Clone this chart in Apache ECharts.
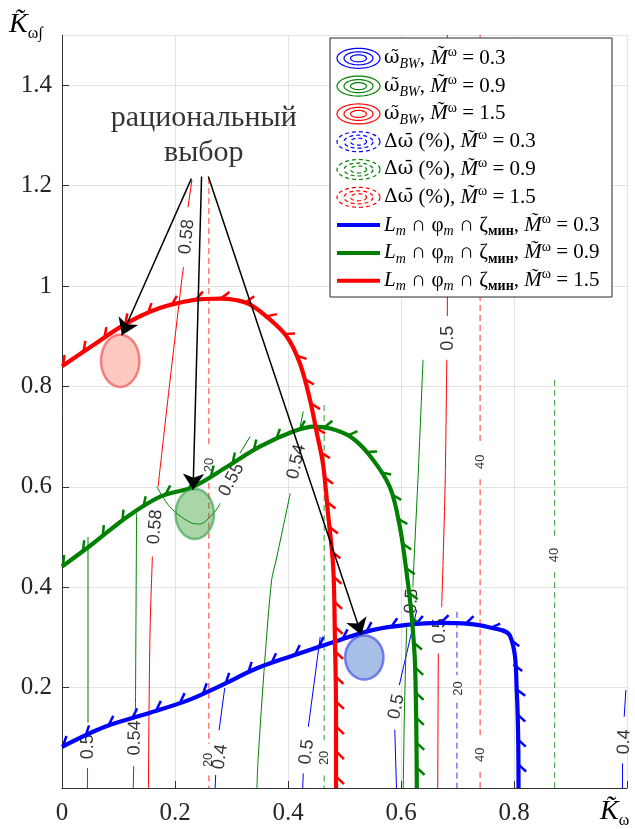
<!DOCTYPE html>
<html>
<head>
<meta charset="utf-8">
<script src="https://cdn.jsdelivr.net/npm/echarts@6/dist/echarts.min.js"></script>
<style>
html, body { margin: 0; padding: 0; background: #fff; }
#chart { width: 635px; height: 829px; }
</style>
</head>
<body>
<div id="chart"></div>
<script>
// --- axes ---
const X_MAX = 1, Y_MAX = 1.5, STEP = 0.2;

// --- boundaries L_m ∩ φ_m ∩ ζ_мин (thick) ---
const boundBlue = [[0,0.082],[0.076,0.122],[0.153,0.149],[0.224,0.175],[0.283,0.205],[0.342,0.237],[0.404,0.262],[0.492,0.295],[0.551,0.315],[0.61,0.325],[0.669,0.329],[0.72,0.327],[0.752,0.321],[0.793,0.303],[0.805,0.19],[0.808,0]];
const boundGreen = [[0,0.441],[0.055,0.487],[0.115,0.54],[0.173,0.58],[0.232,0.6],[0.292,0.64],[0.35,0.68],[0.409,0.71],[0.445,0.72],[0.475,0.716],[0.51,0.7],[0.545,0.662],[0.58,0.6],[0.598,0.52],[0.61,0.428],[0.619,0.341],[0.625,0.242],[0.628,0]];
const boundRed = [[0,0.84],[0.055,0.882],[0.115,0.926],[0.173,0.956],[0.232,0.972],[0.28,0.975],[0.327,0.966],[0.362,0.939],[0.398,0.899],[0.421,0.846],[0.439,0.773],[0.451,0.707],[0.462,0.645],[0.471,0.545],[0.48,0.44],[0.483,0.3],[0.485,0.15],[0.485,0]];

// --- ω_BW contours (solid), split at the labels ---
const solidBlue = [
  [[0.288,0.199],[0.278,0.115]], [[0.272,0.026],[0.271,0]],
  [[0.457,0.301],[0.436,0.122]], [[0.427,0.029],[0.426,0]],
  [[0.628,0.355],[0.597,0.205]], [[0.589,0.116],[0.592,0]],
  [[0.998,0.195],[0.995,0.142]], [[0.992,0.049],[0.992,0]]
];
const solidGreen = [
  [[0.046,0.5],[0.046,0.13]], [[0.045,0.04],[0.045,0]],
  [[0.132,0.547],[0.131,0.35],[0.13,0.155]], [[0.127,0.044],[0.126,0]],
  [[0.168,0.6],[0.191,0.56],[0.232,0.527],[0.244,0.526],[0.268,0.547],[0.28,0.567]], [[0.315,0.667],[0.333,0.7]],
  [[0.427,0.75],[0.421,0.717]], [[0.404,0.587],[0.379,0.454],[0.371,0.414],[0.359,0.255],[0.347,0.056],[0.345,0]],
  [[0.639,0.853],[0.631,0.64],[0.622,0.428],[0.621,0.4]], [[0.61,0.321],[0.606,0.15],[0.604,0]]
];
const solidRed = [
  [[0.230,1.211],[0.223,1.157]], [[0.215,1.038],[0.212,1.012],[0.19,0.8],[0.17,0.6]], [[0.16,0.461],[0.156,0.321],[0.154,0.15],[0.153,0]],
  [[0.682,1.5],[0.682,0.94]], [[0.681,0.853],[0.678,0.6],[0.672,0.36]], [[0.666,0.268],[0.665,0]]
];
// --- Δω (%) contours (dashed) ---
const dashBlue = [[[0.699,0.351],[0.699,0.225]], [[0.699,0.17],[0.699,0]]];
const dashGreen = [[[0.464,0.763],[0.464,0.095]], [[0.464,0.025],[0.464,0]], [[0.872,0.813],[0.872,0.5]], [[0.872,0.43],[0.872,0]]];
const dashRed = [[[0.26,1.215],[0.26,0.68]], [[0.26,0.608],[0.26,0.088]], [[0.26,0.025],[0.26,0]], [[0.74,1.5],[0.74,0.685]], [[0.74,0.615],[0.74,0.1]], [[0.74,0.032],[0.74,0]]];

// contour labels: [text, x, y, angle]
const solidLabels = [
  ['0.4',0.28,0.062,82], ['0.5',0.433,0.072,83], ['0.5',0.592,0.162,78], ['0.4',0.995,0.092,88],
  ['0.5',0.046,0.082,90], ['0.54',0.129,0.1,89], ['0.55',0.3,0.614,62], ['0.54',0.415,0.65,77], ['0.5',0.619,0.372,86],
  ['0.58',0.221,1.098,84], ['0.58',0.165,0.52,85], ['0.5',0.683,0.896,90], ['0.5',0.669,0.313,90]
];
const dashLabels = [
  ['20',0.701,0.198,90], ['20',0.465,0.06,90], ['40',0.872,0.464,90],
  ['20',0.261,0.643,88], ['20',0.259,0.056,90], ['40',0.74,0.65,90], ['40',0.74,0.066,90]
];

// rational choice areas: [cx, cy, rx, ry]
const ellipses = [[0.103,0.851,0.034,0.052],[0.235,0.546,0.034,0.05],[0.535,0.26,0.034,0.044]];
const arrowFrom = [[0.229,1.214],[0.247,1.218],[0.259,1.218]];
const arrowTo = [[0.106,0.902],[0.232,0.594],[0.53,0.305]];
const noteText = 'рациональный\nвыбор';
const noteAt = [0.251,1.30];
const legendM = ['0.3','0.9','1.5'];

const BLUE = '#0000ff', GREEN = '#008000', RED = '#ff0000';
const SERIF = 'Liberation Serif';
const SANS = 'Liberation Sans';

const chart = echarts.init(document.getElementById('chart'));
const series = [];

function addSegs(segs, color, dashed) {
  segs.forEach(s => series.push({
    type: 'line', data: s, symbol: 'none', silent: true, z: 2,
    smooth: s.length > 2 ? 0.3 : false,
    lineStyle: { color: color, width: 1, type: dashed ? [6, 4] : 'solid', opacity: dashed ? 0.8 : 1 }
  }));
}
addSegs(solidBlue, BLUE, false);
addSegs(solidGreen, GREEN, false);
addSegs(solidRed, RED, false);
addSegs(dashBlue, BLUE, true);
addSegs(dashGreen, GREEN, true);
addSegs(dashRed, RED, true);

function addLabels(list, size) {
  series.push({
    type: 'scatter', symbolSize: 0, silent: true, z: 3,
    data: list.map(l => ({ value: [l[1], l[2]], label: { formatter: l[0], rotate: l[3] } })),
    label: { show: true, position: 'inside', fontFamily: SANS, fontSize: size, color: '#000' }
  });
}
addLabels(solidLabels, 18);
addLabels(dashLabels, 13);

// barbs on the side of the boundary, every ~25px
function barbRenderer(curve, color) {
  return function (params, api) {
    const p = curve.map(d => api.coord(d));
    const out = [];
    let next = 1, dist = 0;
    const len = 11, ca = 0.72, sa = 0.69;
    for (let i = 0; i < p.length - 1; i++) {
      const dx = p[i + 1][0] - p[i][0], dy = p[i + 1][1] - p[i][1];
      const L = Math.hypot(dx, dy);
      if (!L) continue;
      const ux = dx / L, uy = dy / L, nx = uy, ny = -ux;
      while (next <= dist + L) {
        const t = next - dist;
        const bx = p[i][0] + ux * t, by = p[i][1] + uy * t;
        out.push({
          type: 'line',
          shape: { x1: bx, y1: by, x2: bx + len * (ca * nx + sa * ux), y2: by + len * (ca * ny + sa * uy) },
          style: { stroke: color, lineWidth: 2.5 }
        });
        next += 25;
      }
      dist += L;
    }
    return { type: 'group', children: out };
  };
}

[[boundBlue, BLUE], [boundGreen, GREEN], [boundRed, RED]].forEach(([d, c]) => {
  series.push({ type: 'line', data: d, symbol: 'none', smooth: 0.35, silent: true, z: 6, lineStyle: { color: c, width: 4.2 } });
  series.push({ type: 'custom', data: [[0, 0]], silent: true, z: 6, renderItem: barbRenderer(d, c) });
});

const ellStyles = [
  ['rgba(250,120,100,0.4)', 'rgba(240,60,60,0.6)'],
  ['rgba(40,150,40,0.4)', 'rgba(40,150,60,0.55)'],
  ['rgba(60,110,200,0.45)', 'rgba(50,60,230,0.6)']
];
series.push({
  type: 'custom', data: ellipses, encode: { x: 0, y: 1 }, silent: true, z: 7,
  renderItem: function (params, api) {
    const c = api.coord([api.value(0), api.value(1)]);
    const s = api.size([api.value(2), api.value(3)]);
    const pts = [];
    for (let k = 0; k < 64; k++) {
      const a = k / 64 * 2 * Math.PI;
      pts.push([c[0] + s[0] * Math.cos(a), c[1] + s[1] * Math.sin(a)]);
    }
    const st = ellStyles[params.dataIndex];
    return { type: 'polygon', shape: { points: pts }, style: { fill: st[0], stroke: st[1], lineWidth: 2.5 } };
  }
});

series.push({
  type: 'lines', coordinateSystem: 'cartesian2d', silent: true, z: 9,
  symbol: ['none', 'arrow'], symbolSize: 16,
  lineStyle: { color: '#000', width: 1.5, opacity: 1 },
  data: arrowFrom.map((f, i) => ({ coords: [f, arrowTo[i]] }))
});

series.push({
  type: 'scatter', symbolSize: 0, silent: true, z: 9,
  data: [{ value: noteAt }],
  label: { show: true, position: 'inside', formatter: noteText, fontFamily: SERIF, fontSize: 30, lineHeight: 35, color: '#000', align: 'center' }
});

// --- legend (drawn by hand, icons are contour-like) ---
const rich = {
  r: { fontFamily: SERIF, fontSize: 21, lineHeight: 26, fill: '#000' },
  g: { fontFamily: 'DejaVu Serif', fontSize: 19, lineHeight: 26, fill: '#000' },
  i: { fontFamily: SERIF, fontSize: 21, fontStyle: 'italic', lineHeight: 26, fill: '#000' },
  sub: { fontFamily: SERIF, fontSize: 14, fontStyle: 'italic', lineHeight: 15, verticalAlign: 'bottom', fill: '#000' },
  subr: { fontFamily: SERIF, fontSize: 14, fontWeight: 'bold', lineHeight: 15, verticalAlign: 'bottom', fill: '#000' },
  sup: { fontFamily: SERIF, fontSize: 14, lineHeight: 15, verticalAlign: 'top', fill: '#000' }
};
const mPart = m => '{r|, }{i|M\u0303}{sup|ω}{r| = ' + m + '}';
const legendTexts = [
  ...legendM.map(m => '{g|ω\u0303}{sub|BW}' + mPart(m)),
  ...legendM.map(m => '{g|Δω\u0304}{r| (%)}' + mPart(m)),
  ...legendM.map(m => '{i|L}{sub|m}{r| ∩ φ}{sub|m}{r| ∩ ζ}{subr|мин}' + mPart(m))
];
const legendColors = [BLUE, GREEN, RED];

function ellPts(cx, cy, rx, ry) {
  const pts = [];
  for (let k = 0; k < 48; k++) {
    const a = k / 48 * 2 * Math.PI;
    pts.push([cx + rx * Math.cos(a), cy + ry * Math.sin(a)]);
  }
  return pts;
}

const graphic = [{ type: 'rect', shape: { x: 330, y: 38, width: 282, height: 259 }, style: { fill: '#fff', stroke: '#262626', lineWidth: 1 }, z: 100 }];
legendTexts.forEach((t, i) => {
  const yc = 58.3 + i * 27.8;
  const col = legendColors[i % 3];
  if (i < 6) {
    [[21.5, 10], [14.5, 6.5], [8, 3.5]].forEach(r => graphic.push({
      type: 'polygon', shape: { points: ellPts(358.5, yc, r[0], r[1]) }, z: 101,
      style: { fill: 'none', stroke: col, lineWidth: 1.2, lineDash: i < 3 ? null : [4, 3] }
    }));
  } else {
    graphic.push({ type: 'line', shape: { x1: 337, y1: yc, x2: 380, y2: yc }, z: 101, style: { stroke: col, lineWidth: 4 } });
  }
  graphic.push({ type: 'text', x: 384, y: yc, z: 101, style: { text: t, rich: rich, verticalAlign: 'middle', align: 'left' } });
});

// axis names
const kRich = {
  k: { fontFamily: SERIF, fontStyle: 'italic', fontSize: 28, lineHeight: 34, fill: '#000' },
  s: { fontFamily: SERIF, fontSize: 16, lineHeight: 18, verticalAlign: 'bottom', fill: '#000' }
};
graphic.push({ type: 'text', x: 9, y: 8, z: 101, style: { text: '{k|K\u0303}{s|ω∫}', rich: kRich, verticalAlign: 'top' } });
graphic.push({ type: 'text', x: 600, y: 795, z: 101, style: { text: '{k|K\u0303}{s|ω}', rich: kRich, verticalAlign: 'top' } });

const axisCommon = {
  type: 'value', interval: STEP, min: 0,
  axisLine: { show: true, onZero: false, lineStyle: { color: '#333', width: 1 } },
  axisTick: { show: true, inside: true, length: 7, lineStyle: { color: '#333' } },
  splitLine: { show: true, lineStyle: { color: '#e3e3e3', width: 1 } }
};

chart.setOption({
  animation: false,
  backgroundColor: '#fff',
  grid: { left: 62, right: 8, top: 35, bottom: 41, containLabel: false, outerBoundsMode: 'none' },
  xAxis: Object.assign({}, axisCommon, {
    max: X_MAX,
    axisLabel: { margin: 13, fontFamily: SERIF, fontSize: 25, color: '#262626',
      formatter: v => (v > X_MAX - 0.01 ? '' : String(+v.toFixed(1))) }
  }),
  yAxis: Object.assign({}, axisCommon, {
    max: Y_MAX,
    axisLabel: { margin: 10, fontFamily: SERIF, fontSize: 25, color: '#262626', showMinLabel: false, showMaxLabel: false,
      formatter: v => (v === 0 || v > 1.45 ? '' : String(+v.toFixed(1))) }
  }),
  graphic: graphic,
  series: series
});
</script>
</body>
</html>
